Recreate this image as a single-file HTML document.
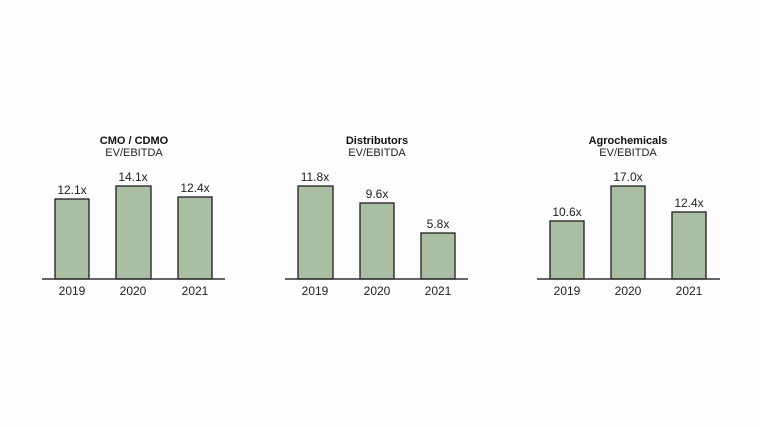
<!DOCTYPE html>
<html><head><style>
body{margin:0;background:#fff;}
svg{display:block;font-family:"Liberation Sans",Arial,sans-serif;}
.b{fill:#a9bea3;stroke:#1e1e1e;stroke-width:1.3}
.t{font-size:11px;font-weight:bold;fill:#111;text-anchor:middle}
.s{font-size:11px;fill:#222;text-anchor:middle}
.v{font-size:12px;fill:#222;text-anchor:middle}
.a{stroke:#333;stroke-width:1.5}
</style></head><body>
<svg width="760" height="427" viewBox="0 0 760 427">
<rect width="760" height="427" fill="#fdfdfd"/>
<text class="t" x="134" y="144">CMO / CDMO</text>
<text class="s" x="134" y="156">EV/EBITDA</text>
<rect class="b" x="55" y="199" width="34" height="80"/>
<rect class="b" x="116" y="186" width="35" height="93"/>
<rect class="b" x="178" y="197" width="34" height="82"/>
<text class="v" x="72" y="194">12.1x</text>
<text class="v" x="133" y="181">14.1x</text>
<text class="v" x="195" y="192">12.4x</text>
<line class="a" x1="42" y1="279" x2="225" y2="279"/>
<text class="v" x="72" y="295">2019</text>
<text class="v" x="133" y="295">2020</text>
<text class="v" x="195" y="295">2021</text>
<text class="t" x="377" y="144">Distributors</text>
<text class="s" x="377" y="156">EV/EBITDA</text>
<rect class="b" x="298" y="186" width="35" height="93"/>
<rect class="b" x="360" y="203" width="34" height="76"/>
<rect class="b" x="421" y="233" width="34" height="46"/>
<text class="v" x="315" y="181">11.8x</text>
<text class="v" x="377" y="198">9.6x</text>
<text class="v" x="438" y="228">5.8x</text>
<line class="a" x1="285" y1="279" x2="468" y2="279"/>
<text class="v" x="315" y="295">2019</text>
<text class="v" x="377" y="295">2020</text>
<text class="v" x="438" y="295">2021</text>
<text class="t" x="628" y="144">Agrochemicals</text>
<text class="s" x="628" y="156">EV/EBITDA</text>
<rect class="b" x="550" y="221" width="34" height="58"/>
<rect class="b" x="611" y="186" width="34" height="93"/>
<rect class="b" x="672" y="212" width="34" height="67"/>
<text class="v" x="567" y="216">10.6x</text>
<text class="v" x="628" y="181">17.0x</text>
<text class="v" x="689" y="207">12.4x</text>
<line class="a" x1="537" y1="279" x2="720" y2="279"/>
<text class="v" x="567" y="295">2019</text>
<text class="v" x="628" y="295">2020</text>
<text class="v" x="689" y="295">2021</text>
</svg>
</body></html>
